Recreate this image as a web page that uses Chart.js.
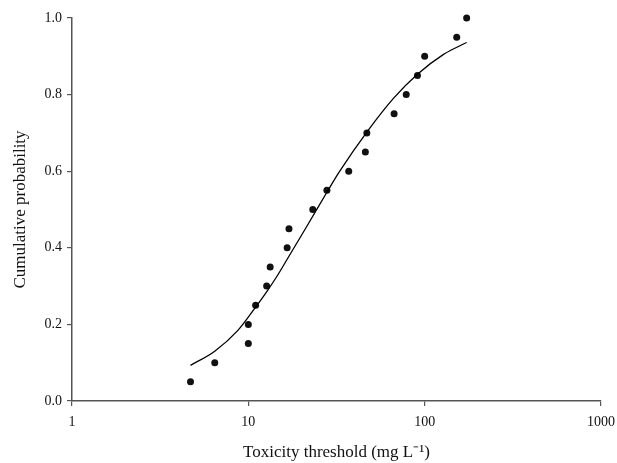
<!DOCTYPE html>
<html>
<head>
<meta charset="utf-8">
<script src="https://cdn.jsdelivr.net/npm/chart.js@4.4.1/dist/chart.umd.min.js"></script>
<style>
  html, body { margin: 0; padding: 0; background: #fff; }
  canvas { display: block; }
</style>
</head>
<body>
<canvas id="chart" width="617" height="463" style="width:617px;height:463px"></canvas>
<script>
// observed thresholds (mg/L) and their cumulative probability
const thresholds = [4.7, 6.45, 10, 10, 11, 12.7, 13.3, 16.6, 17, 23.2, 27.9, 37.1, 46.1, 47, 67.1, 78.6, 91, 100, 152, 173];
const probabilities = [0.05, 0.10, 0.15, 0.20, 0.25, 0.30, 0.35, 0.40, 0.45, 0.50, 0.55, 0.60, 0.65, 0.70, 0.75, 0.80, 0.85, 0.90, 0.95, 1.00];

// fitted curve
const curveX = [4.7, 6.45, 8.75, 11, 12.7, 14.5, 16.6, 21.4, 27.9, 33, 47, 66.5, 91, 128, 173];
const curveY = [0.093, 0.13, 0.185, 0.245, 0.285, 0.325, 0.37, 0.455, 0.545, 0.60, 0.702, 0.79, 0.853, 0.905, 0.936];

const xTicks = [1, 10, 100, 1000];

const axisColor = '#555';
const textColor = '#111';
const serif = '"Liberation Serif", "Times New Roman", serif';

const pointData = thresholds.map((x, i) => ({ x: x, y: probabilities[i] }));
const curveData = curveX.map((x, i) => ({ x: x, y: curveY[i] }));

const ctx = document.getElementById('chart').getContext('2d');
new Chart(ctx, {
    type: 'scatter',
    data: {
        datasets: [{
            data: curveData,
            showLine: true,
            borderColor: '#000',
            borderWidth: 1.3,
            pointRadius: 0,
            cubicInterpolationMode: 'monotone',
            fill: false,
            clip: false
        }, {
            data: pointData,
            backgroundColor: '#111',
            borderColor: '#111',
            pointRadius: 3.5,
            borderWidth: 0,
            clip: false
        }]
    },
    options: {
        responsive: false,
        animation: false,
        devicePixelRatio: 1,
        layout: { padding: { top: 18, right: 16, left: 0, bottom: 0 } },
        plugins: {
            legend: { display: false },
            tooltip: { enabled: false }
        },
        scales: {
            x: {
                type: 'logarithmic',
                min: 1,
                max: 1000,
                afterBuildTicks: scale => {
                    scale.ticks = xTicks.map(v => ({ value: v }));
                },
                afterFit: scale => {
                    scale.height = 62;
                    scale.paddingLeft = 0;
                    scale.paddingRight = 0;
                },
                ticks: {
                    callback: v => String(v),
                    color: textColor,
                    font: { family: serif, size: 14 },
                    padding: 8,
                    maxRotation: 0,
                    autoSkip: false
                },
                grid: { drawOnChartArea: false, drawTicks: true, tickLength: 5, color: axisColor, lineWidth: 1.2 },
                border: { display: true, color: axisColor, width: 1.5 },
                title: {
                    display: true,
                    text: 'Toxicity threshold (mg L⁻¹)',
                    color: textColor,
                    font: { family: serif, size: 17 },
                    padding: { top: 0, bottom: 0 }
                }
            },
            y: {
                min: 0,
                max: 1,
                afterFit: scale => {
                    scale.width = 72;
                    scale.paddingTop = 0;
                    scale.paddingBottom = 0;
                },
                ticks: {
                    stepSize: 0.2,
                    callback: v => v.toFixed(1),
                    color: textColor,
                    font: { family: serif, size: 14 },
                    padding: 5
                },
                grid: { drawOnChartArea: false, drawTicks: true, tickLength: 5, color: axisColor, lineWidth: 1.2 },
                border: { display: true, color: axisColor, width: 1.5 },
                title: {
                    display: true,
                    text: 'Cumulative probability',
                    color: textColor,
                    font: { family: serif, size: 17 },
                    padding: { top: 10, bottom: 0 }
                }
            }
        }
    }
});
</script>
</body>
</html>
